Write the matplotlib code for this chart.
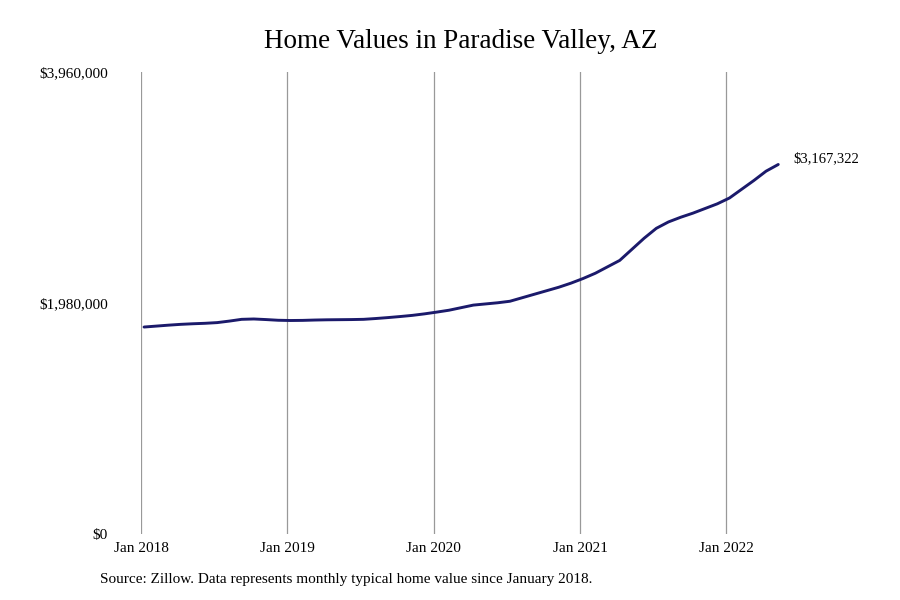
import numpy as np
import matplotlib
matplotlib.use('Agg')
import matplotlib.pyplot as plt

# monthly typical home value, Jan 2018 .. May 2022
values = [1774000, 1782000, 1790000, 1797000, 1802000, 1806000, 1812000, 1825000,
          1840000, 1843000, 1838000, 1832000, 1830000, 1831000, 1834000, 1836000,
          1837000, 1838000, 1840000, 1847000, 1855000, 1864000, 1874000, 1887000,
          1902000, 1918000, 1940000, 1962000, 1972000, 1982000, 1995000, 2025000,
          2055000, 2085000, 2115000, 2150000, 2190000, 2235000, 2290000, 2345000,
          2440000, 2535000, 2620000, 2675000, 2715000, 2750000, 2790000, 2830000,
          2880000, 2955000, 3030000, 3110000, 3167322]

tick_pos = [0, 12, 24, 36, 48]
tick_labels = ["Jan 2018", "Jan 2019", "Jan 2020", "Jan 2021", "Jan 2022"]
y_ticks = [0, 1980000, 3960000]
y_labels = ["$0", "$1,980,000", "$3,960,000"]
end_label = "$3,167,322"

SERIF = ['Liberation Serif', 'DejaVu Serif']
LINE_COLOR = '#1b1a6b'

fig = plt.figure(figsize=(9, 6), dpi=100)
ax = fig.add_axes([141/900, 66/600, (824-141)/900, (534-72)/600])

months = np.arange(len(values))
ax.plot(months + 0.25, values, color=LINE_COLOR, lw=2.1, solid_capstyle='round')

ax.set_xlim(0, 56)
ax.set_ylim(0, 3960000)
for p in tick_pos:
    ax.axvline(p, color='#999999', lw=0.9, zorder=0)

for s in ax.spines.values():
    s.set_visible(False)

ax.set_xticks(tick_pos)
ax.set_xticklabels(tick_labels, family=SERIF, fontsize=11)
ax.set_yticks(y_ticks)
ax.set_yticklabels(y_labels, family=SERIF, fontsize=11)
ax.tick_params(axis='both', length=0)
ax.tick_params(axis='y', pad=24)
ax.tick_params(axis='x', pad=6)

ax.annotate(end_label, xy=(months[-1] + 0.25, values[-1]), xytext=(11, 4),
            textcoords='offset points', family=SERIF, fontsize=10.5,
            va='center', ha='left')

fig.text(461/900, 1 - 42/600, "Home Values in Paradise Valley, AZ", ha='center', va='center',
         family=SERIF, fontsize=19.5)
fig.text(100/900, 1 - 580/600, "Source: Zillow. Data represents monthly typical home value since January 2018.",
         ha='left', va='center', family=SERIF, fontsize=11)

fig.savefig('out.png', dpi=100)
